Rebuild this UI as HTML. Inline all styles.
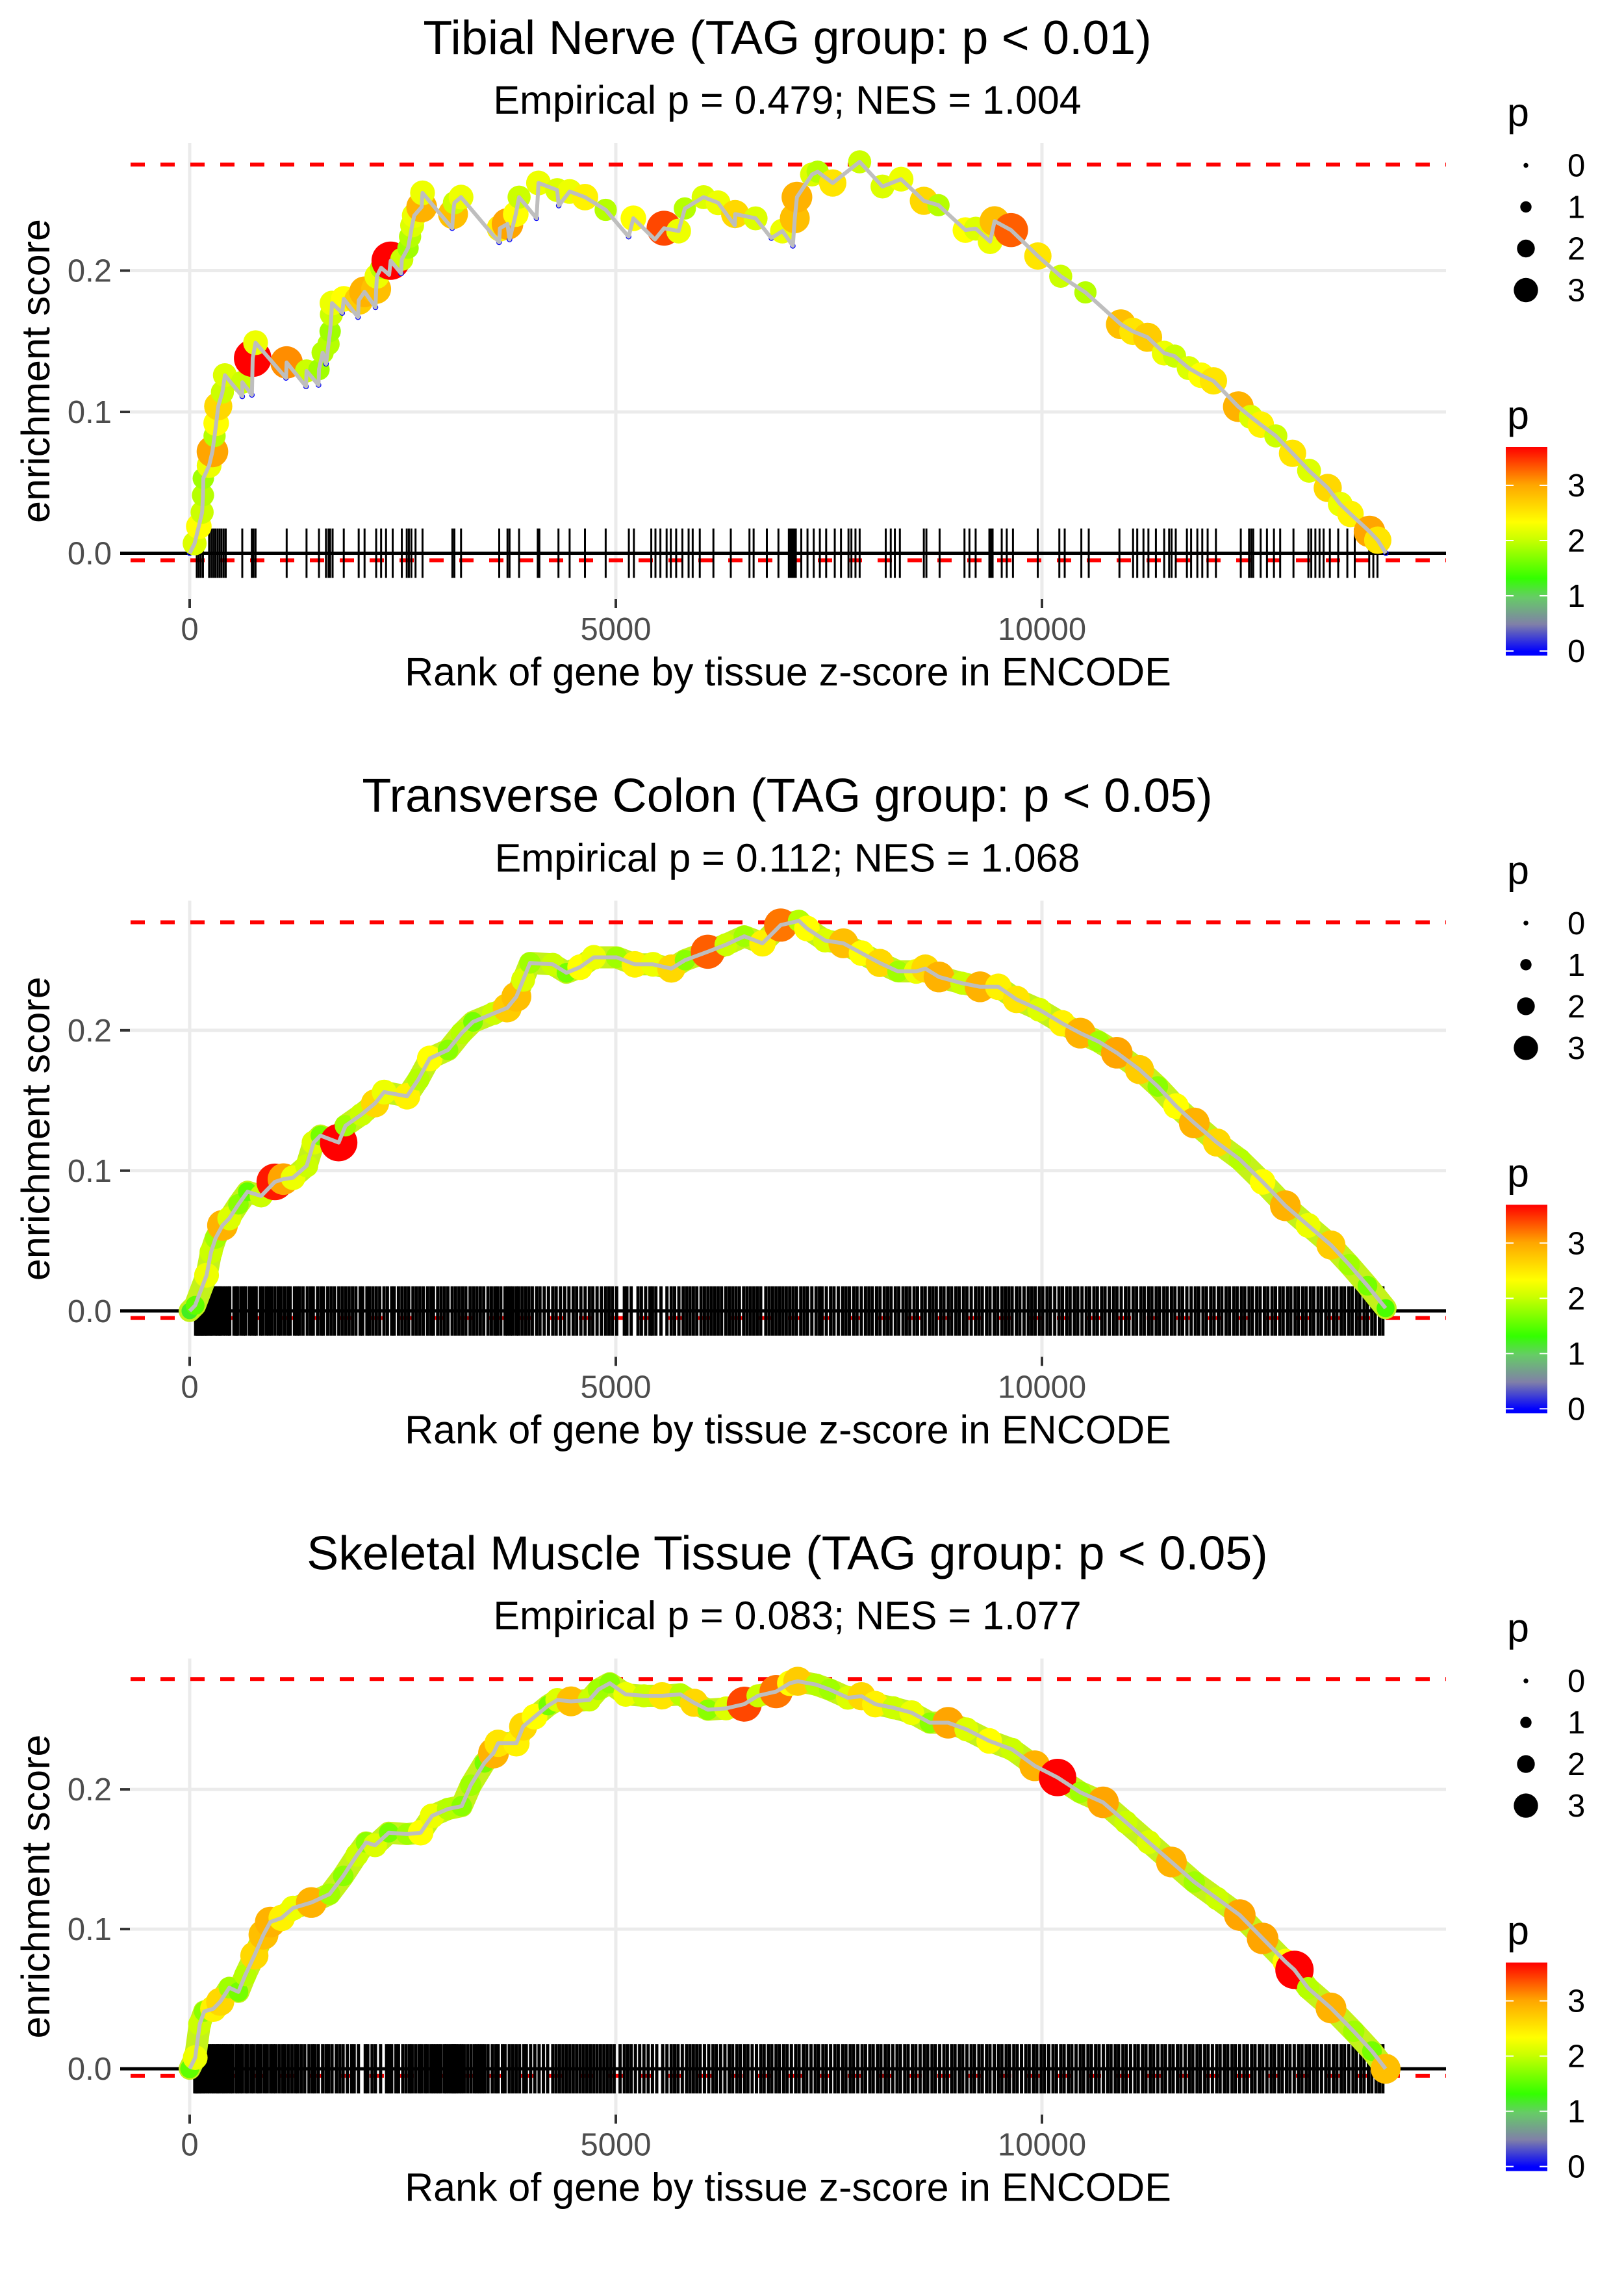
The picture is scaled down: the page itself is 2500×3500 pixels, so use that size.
<!DOCTYPE html>
<html><head><meta charset="utf-8"><title>Enrichment plots</title>
<style>
html,body{margin:0;padding:0;background:#fff;}
svg{display:block;font-family:"Liberation Sans",Arial,sans-serif;}
</style></head>
<body>
<svg id="chart" xmlns="http://www.w3.org/2000/svg" width="2500" height="3500" viewBox="0 0 2500 3500">
<defs>
<linearGradient id="pgrad" x1="0" y1="1" x2="0" y2="0">
<stop offset="0.02" stop-color="#0000ff"/>
<stop offset="0.15" stop-color="#8080a8"/>
<stop offset="0.28" stop-color="#66cc66"/>
<stop offset="0.37" stop-color="#33ff00"/>
<stop offset="0.56" stop-color="#ccff00"/>
<stop offset="0.64" stop-color="#ffff00"/>
<stop offset="0.82" stop-color="#ffa500"/>
<stop offset="1" stop-color="#ff0000"/>
</linearGradient>
</defs>
<rect x="0" y="0" width="2500" height="3500" fill="#fff"/>
</svg>
<script>
// ---- data ----
const xTicks=[0,5000,10000];
const xTickLabels=['0','5000','10000'];
const yTicks=[0,0.1,0.2];
const yTickLabels=['0.0','0.1','0.2'];
const legendSizes=[0,1,2,3];
const legendColorTicks=[0,1,2,3];

const tibialRank=[0,58,107,146,156,160,228,267,292,311,335,384,413,617,617,730,739,773,1130,1137,1365,1371,1512,1517,1560,1600,1629,1648,1663,1670,1790,1808,1975,1983,2052,2180,2188,2197,2246,2340,2358,2480,2489,2562,2586,2610,2635,2722,2732,3080,3090,3106,3184,3630,3640,3729,3753,3826,3865,4069,4093,4312,4330,4458,4638,4881,5150,5206,5459,5566,5737,5810,6030,6200,6395,6400,6640,6825,6955,7077,7100,7125,7302,7368,7545,7861,8129,8347,8614,8786,9102,9223,9392,9444,9637,9952,10220,10510,10926,11067,11240,11434,11556,11722,11866,12012,12304,12450,12568,12744,12940,13134,13353,13500,13620,13843,13940,14035];
const tibialES=[0,.007,.019,.029,.041,.053,.062,.072,.083,.092,.104,.114,.126,.111,.121,.112,.138,.149,.124,.135,.118,.129,.119,.130,.142,.134,.148,.157,.169,.177,.170,.180,.167,.179,.185,.174,.187,.196,.202,.197,.207,.198,.208,.216,.224,.232,.239,.245,.255,.230,.240,.248,.252,.220,.230,.233,.222,.240,.252,.237,.262,.257,.246,.256,.252,.243,.224,.237,.222,.230,.228,.244,.252,.248,.232,.240,.237,.223,.228,.2175,.237,.252,.268,.270,.262,.277,.2595,.2647,.2494,.2463,.2287,.2297,.2205,.235,.2287,.2103,.196,.1846,.162,.157,.1528,.1416,.1395,.131,.126,.122,.1037,.0965,.091,.083,.0707,.0584,.0462,.0347,.0278,.0154,.0092,0];
const tibialP=[0,2.1,2.3,2.0,1.9,1.8,2.2,3.0,1.9,2.3,2.6,2.0,2.1,0,2.0,0,3.7,2.2,0,3.1,0,2.0,0,1.8,1.9,0,1.9,1.8,2.0,2.2,0,2.3,0,2.7,2.9,0,2.8,2.2,1.9,0,3.8,0,2.0,1.8,1.9,2.1,2.2,2.9,2.2,0,2.8,2.0,2.2,0,2.4,3.0,0,2.3,2.0,0,2.2,2.1,0,2.2,2.4,1.9,0,2.3,0,3.4,2.2,1.9,2.1,2.2,0,2.6,2.1,0,2.2,0,2.8,2.9,2.1,1.9,2.5,2.0,2.1,2.2,2.6,1.9,2.3,2.1,2.2,2.8,3.3,2.5,2.0,1.9,2.8,2.5,2.7,2.2,2.0,2.1,2.3,2.5,2.9,2.1,2.4,2.0,2.5,2.1,2.6,2.2,2.4,3.0,2.5,0];
const tibialRug=[83,107,131,156,228,253,277,301,326,350,374,399,423,617,729,749,773,1138,1371,1517,1599,1629,1648,1677,1808,1983,2052,2188,2246,2304,2382,2489,2547,2572,2601,2650,2732,3082,3106,3184,3632,3729,3753,3865,4084,4103,4327,4458,4638,4881,5153,5212,5416,5465,5523,5596,5645,5708,5781,5854,5902,5985,6145,6349,6568,6617,6772,6908,7030,7045,7062,7078,7095,7112,7176,7249,7322,7394,7468,7569,7642,7730,7764,7812,7861,8167,8226,8274,8333,8614,8644,8799,9091,9149,9222,9383,9402,9421,9528,9587,9660,9951,10204,10267,10462,10549,10909,11069,11118,11191,11249,11337,11434,11492,11521,11570,11701,11750,11823,11881,11944,12041,12333,12430,12455,12479,12566,12640,12722,12795,12951,13126,13160,13208,13257,13305,13378,13476,13583,13670,13840,13888,13937];

const colonRank=[0,64,198,251,305,385,465,572,678,839,999,1100,1213,1373,1454,1534,1748,1828,2015,2175,2282,2550,2683,2817,3031,3191,3325,3565,3726,3833,3913,3993,4261,4421,4581,4742,5009,5223,5437,5651,5812,6079,6293,6507,6721,6935,7149,7242,7456,7670,7883,8097,8311,8525,8632,8792,9060,9274,9488,9701,9969,10236,10450,10664,10878,11145,11359,11573,11787,12054,12321,12589,12856,13123,13391,13605,13819,14032];
const colonES=[0,.004,.0255,.042,.052,.061,.066,.076,.085,.082,.092,.094,.095,.1035,.120,.125,.120,.132,.140,.148,.156,.153,.165,.180,.186,.198,.206,.212,.216,.224,.236,.248,.247,.241,.245,.252,.252,.247,.247,.244,.250,.256,.261,.267,.262,.275,.278,.2726,.264,.262,.255,.248,.242,.242,.244,.238,.2336,.231,.231,.222,.2147,.205,.198,.192,.184,.172,.160,.146,.134,.120,.108,.092,.075,.061,.047,.033,.018,.002];
const colonP=[1.2,1.5,2.2,2.0,1.8,2.9,2.1,1.7,1.5,2.0,3.6,3.0,2.2,2.0,2.1,1.6,3.7,1.8,2.0,2.6,2.2,2.4,1.9,2.3,1.7,1.9,1.6,2.0,2.7,2.8,2.1,1.8,2.0,1.6,2.3,2.2,1.8,2.4,2.2,2.6,1.7,3.3,2.0,1.8,2.4,3.2,1.9,2.3,2.1,2.8,2.3,2.6,1.8,2.2,2.6,2.9,2.0,2.9,2.4,2.5,2.1,2.4,2.9,1.8,3.0,2.7,1.7,2.3,2.9,2.6,1.9,2.3,2.9,2.2,2.7,1.8,1.6,1.4];
const colonRug=[70,85,100,120,135,150,170,190,205,230,250,270,300,320,345,360,390,420,450,470,520,545,560,600,630,655,700,730,760,780,830,860,900,930,960,1000,1040,1070,1110,1150,1180,1230,1260,1290,1330,1380,1420,1450,1500,1540,1570,1620,1660,1700,1750,1790,1830,1870,1910,1950,2000,2030,2080,2110,2150,2190,2230,2280,2320,2370,2400,2450,2490,2530,2570,2620,2660,2700,2740,2790,2830,2860,2910,2950,2990,3030,3080,3120,3160,3200,3240,3290,3330,3370,3410,3450,3500,3540,3580,3610,3650,3700,3730,3760,3790,3830,3860,3900,3940,3980,4020,4070,4110,4160,4210,4260,4300,4350,4400,4450,4500,4540,4590,4640,4690,4730,4780,4830,4880,4920,4960,5010,5100,5130,5180,5260,5300,5350,5400,5430,5470,5530,5600,5650,5690,5740,5790,5830,5870,5910,5950,6000,6040,6080,6120,6160,6200,6240,6290,6330,6370,6410,6450,6500,6540,6580,6620,6660,6700,6760,6800,6840,6880,6920,6960,7000,7040,7080,7120,7170,7210,7250,7300,7350,7390,7420,7470,7520,7560,7610,7660,7700,7740,7790,7830,7880,7930,7970,8010,8060,8100,8150,8190,8230,8280,8320,8370,8410,8450,8500,8540,8590,8630,8680,8720,8760,8810,8850,8900,8940,8990,9030,9080,9120,9170,9220,9260,9300,9350,9390,9440,9480,9530,9570,9610,9650,9700,9740,9790,9840,9880,9920,9970,10010,10060,10100,10150,10200,10240,10290,10330,10380,10420,10470,10520,10560,10610,10650,10700,10740,10790,10840,10880,10930,10980,11020,11070,11110,11160,11200,11250,11290,11340,11380,11430,11470,11520,11560,11610,11650,11700,11750,11800,11840,11890,11930,11980,12020,12070,12110,12160,12200,12250,12290,12340,12380,12430,12470,12520,12560,12610,12650,12700,12740,12790,12830,12880,12920,12970,13010,13060,13100,13150,13190,13240,13280,13330,13370,13420,13460,13510,13550,13600,13640,13690,13730,13780,13820,13870,13910,13960,14000];

const muscleRank=[0,65,118,171,278,358,465,572,652,759,866,946,1080,1213,1427,1641,1802,1962,2069,2175,2336,2550,2710,2844,3031,3191,3298,3458,3565,3619,3833,3913,4047,4207,4314,4475,4689,4796,4929,5116,5330,5544,5758,5918,6079,6293,6507,6668,6881,7042,7135,7349,7509,7723,7883,8044,8258,8472,8685,8899,9113,9381,9648,9915,10183,10450,10717,10985,11252,11519,11787,12054,12321,12589,12856,12963,13123,13391,13658,13872,14032];
const muscleES=[0,.008,.032,.041,.043,.048,.058,.055,.067,.081,.096,.105,.108,.115,.119,.125,.138,.153,.162,.160,.169,.168,.169,.181,.186,.188,.203,.219,.226,.233,.233,.245,.252,.260,.264,.263,.264,.2715,.276,.268,.267,.267,.268,.262,.257,.258,.261,.267,.270,.276,.2774,.275,.2715,.2656,.2667,.261,.2584,.2549,.2477,.2477,.243,.2347,.2287,.2169,.2085,.1979,.1907,.1765,.1622,.148,.1337,.1219,.11,.0933,.0767,.0708,.0577,.0435,.0268,.0126,0];
const muscleP=[1.5,2.2,2.0,1.7,2.4,2.6,1.8,1.6,1.9,2.6,2.8,2.9,2.4,2.2,2.9,1.8,1.7,2.0,1.7,2.1,1.6,1.8,2.3,2.2,1.9,1.7,1.8,1.6,2.9,2.5,2.4,2.6,2.3,1.6,2.1,2.8,2.0,1.8,1.7,2.2,2.0,2.5,1.9,2.6,1.7,2.1,3.4,2.0,3.2,2.3,2.7,1.9,1.8,2.1,2.6,2.4,2.0,2.2,1.7,3.0,2.1,2.3,2.0,2.9,3.7,1.8,3.0,2.0,2.1,2.9,1.8,2.0,3.0,3.0,2.3,3.8,1.9,2.9,1.8,1.6,2.8];
const muscleRug=[60,72,84,95,110,125,140,165,180,210,230,260,280,310,330,350,380,400,425,450,480,500,540,560,590,620,660,680,720,750,790,810,840,880,910,950,980,1010,1050,1090,1120,1160,1200,1240,1270,1310,1350,1400,1440,1470,1510,1560,1600,1630,1670,1720,1760,1800,1850,1900,1930,1980,2060,2090,2140,2180,2240,2310,2340,2370,2420,2450,2500,2540,2580,2610,2650,2690,2720,2760,2790,2830,2860,2890,2920,2950,2990,3010,3040,3070,3090,3110,3130,3160,3190,3220,3260,3300,3340,3370,3400,3430,3460,3500,3550,3590,3620,3670,3700,3750,3790,3830,3870,3920,3950,4000,4050,4100,4150,4200,4260,4300,4340,4380,4420,4460,4500,4540,4580,4620,4660,4700,4740,4780,4820,4860,4900,4940,4980,5050,5100,5140,5180,5230,5280,5330,5380,5430,5480,5550,5600,5650,5690,5730,5780,5830,5870,5910,5950,5990,6040,6090,6140,6180,6230,6280,6330,6370,6420,6460,6510,6550,6600,6650,6700,6740,6790,6830,6880,6920,6970,7010,7060,7110,7150,7200,7240,7290,7340,7380,7430,7470,7520,7570,7610,7660,7700,7750,7790,7840,7890,7930,7980,8020,8070,8110,8160,8200,8250,8300,8340,8390,8430,8480,8520,8570,8620,8660,8710,8750,8800,8850,8890,8940,8980,9030,9070,9120,9170,9210,9260,9300,9350,9390,9440,9490,9530,9580,9620,9670,9710,9760,9810,9850,9900,9940,9990,10030,10080,10130,10170,10220,10260,10310,10350,10400,10450,10490,10540,10580,10630,10670,10720,10770,10810,10860,10900,10950,10990,11040,11090,11130,11180,11220,11270,11310,11360,11410,11450,11500,11540,11590,11630,11680,11730,11770,11820,11860,11910,11950,12000,12050,12090,12140,12180,12230,12270,12320,12370,12410,12460,12500,12550,12590,12640,12690,12730,12780,12820,12870,12910,12960,13010,13050,13100,13140,13190,13230,13280,13330,13370,13420,13460,13510,13550,13600,13650,13690,13740,13780,13830,13870,13920,13960,14000];

// ---- rendering ----
const NS='http://www.w3.org/2000/svg';
const svg=document.getElementById('chart');
function mk(tag,attrs,parent){const e=document.createElementNS(NS,tag);for(const k in attrs)e.setAttribute(k,attrs[k]);(parent||svg).appendChild(e);return e;}
const stops=[[0,[0,0,255]],[0.5,[128,128,168]],[1.0,[102,204,102]],[1.3,[51,255,0]],[2.0,[204,255,0]],[2.3,[255,255,0]],[3.0,[255,165,0]],[3.7,[255,0,0]]];
function pColor(p){
  if(p<=stops[0][0])return 'rgb(0,0,255)';
  for(let i=1;i<stops.length;i++){if(p<=stops[i][0]){const a=stops[i-1],b=stops[i],t=(p-a[0])/(b[0]-a[0]);const c=a[1].map((v,j)=>Math.round(v+(b[1][j]-v)*t));return 'rgb('+c.join(',')+')';}}
  return 'rgb(255,0,0)';
}
function pRadius(p){return 3.7+5*p;}
const PL=200,PR=2226,X0=292,KX=0.1312;
function xs(r){return X0+r*KX;}

function drawPanel(k,cfg){
  const dy=k*1166.3;
  const y0=851.5+dy, ky=cfg.ky;
  const ys=v=>y0-v*ky;
  const g=mk('g',{});
  
  
  const t=mk('text',{x:1212,y:83+dy,'font-size':73.5,'text-anchor':'middle',fill:'#000'},g);t.textContent=cfg.title;
  
  
  const st=mk('text',{x:1212,y:175+dy,'font-size':61,'text-anchor':'middle',fill:'#000'},g);st.textContent=cfg.subtitle;
  
  
  yTicks.forEach((v,i)=>{
    const gl=mk('line',{x1:PL,x2:PR,y1:ys(v),y2:ys(v),stroke:'#ebebeb','stroke-width':5},g);
    
    
    const tk=mk('line',{x1:185,x2:200,y1:ys(v),y2:ys(v),stroke:'#333','stroke-width':4},g);
    
    
    const tl=mk('text',{x:172,y:ys(v)+17,'font-size':49,'text-anchor':'end',fill:'#4d4d4d'},g);tl.textContent=yTickLabels[i];
    
    
  });
  xTicks.forEach((v,i)=>{
    const gl=mk('line',{x1:xs(v),x2:xs(v),y1:220+dy,y2:922+dy,stroke:'#ebebeb','stroke-width':5},g);
    
    
    const tk=mk('line',{x1:xs(v),x2:xs(v),y1:922+dy,y2:936+dy,stroke:'#333','stroke-width':4},g);
    
    
    const tl=mk('text',{x:xs(v),y:985+dy,'font-size':49,'text-anchor':'middle',fill:'#4d4d4d'},g);tl.textContent=xTickLabels[i];
    
    
  });
  const xt=mk('text',{x:1213,y:1055+dy,'font-size':61,'text-anchor':'middle',fill:'#000'},g);xt.textContent='Rank of gene by tissue z-score in ENCODE';
  
  
  const yt=mk('text',{x:0,y:0,'font-size':61,'text-anchor':'middle',fill:'#000',transform:'translate(76,'+(571+dy)+') rotate(-90)'},g);yt.textContent='enrichment score';
  
  
  [cfg.top,-0.005].forEach(v=>{
    const rl=mk('line',{x1:201,x2:PR,y1:ys(v),y2:ys(v),stroke:'#ff0000','stroke-width':6,'stroke-dasharray':'22 24'},g);
    
    
  });
  const rugG=mk('g',{stroke:'#000','stroke-width':cfg.rugW},g);
  
  
  cfg.rug.forEach(r=>{
    const l=mk('line',{x1:xs(r),x2:xs(r),y1:y0-38,y2:y0+38},rugG);
    
    
  });
  const zl=mk('line',{x1:185,x2:PR,y1:y0,y2:y0,stroke:'#000','stroke-width':5},g);
  
  
  const pts=cfg.rank.map((r,i)=>xs(r).toFixed(1)+','+ys(cfg.es[i]).toFixed(1)).join(' ');
  if(cfg.band){
    const b=mk('polyline',{points:pts,fill:'none',stroke:'#c4f21a','stroke-width':34,'stroke-linejoin':'round','stroke-linecap':'round'},g);
    
    
  }
  const ptG=mk('g',{},g);
  
  
  cfg.rank.forEach((r,i)=>{
    const p=cfg.p[i];
    const c=mk('circle',{cx:xs(r),cy:ys(cfg.es[i]),r:p===0?3.5:1.3*pRadius(p),fill:p===0?'none':pColor(p),stroke:p===0?'#0000ff':'none','stroke-width':1.5},ptG);
    
    
  });
  const line=mk('polyline',{points:pts,fill:'none',stroke:'#bebebe','stroke-width':6,'stroke-linejoin':'round'},g);
  
  
  const lt=mk('text',{x:2320,y:194+dy,'font-size':61,fill:'#000'},g);lt.textContent='p';
  
  
  legendSizes.forEach((s,i)=>{
    const cy=254.5+i*64+dy;
    const c=mk('circle',{cx:2349,cy:cy,r:pRadius(s),fill:'#000'},g);
    
    
    const tx=mk('text',{x:2413,y:cy+17,'font-size':49,fill:'#000'},g);tx.textContent=String(s);
    
    
  });
  const ct=mk('text',{x:2320,y:660+dy,'font-size':61,fill:'#000'},g);ct.textContent='p';
  
  
  const bar=mk('rect',{x:2318,y:688+dy,width:64,height:321,fill:'url(#pgrad)'},g);
  
  
  legendColorTicks.forEach(v=>{
    const yy=1002-v*85+dy;
    mk('line',{x1:2318,x2:2330,y1:yy,y2:yy,stroke:'#fff','stroke-width':2},g);
    mk('line',{x1:2370,x2:2382,y1:yy,y2:yy,stroke:'#fff','stroke-width':2},g);
    const tx=mk('text',{x:2413,y:yy+17,'font-size':49,fill:'#000'},g);tx.textContent=String(v);
    
    
  });
}
drawPanel(0,{name:'tibial-nerve',title:'Tibial Nerve (TAG group: p < 0.01)',subtitle:'Empirical p = 0.479; NES = 1.004',ky:2175,top:0.275,rank:tibialRank,es:tibialES,p:tibialP,rug:tibialRug,rugW:3,band:false});
drawPanel(1,{name:'transverse-colon',title:'Transverse Colon (TAG group: p < 0.05)',subtitle:'Empirical p = 0.112; NES = 1.068',ky:2160,top:0.277,rank:colonRank,es:colonES,p:colonP,rug:colonRug,rugW:5,band:true});
drawPanel(2,{name:'skeletal-muscle',title:'Skeletal Muscle Tissue (TAG group: p < 0.05)',subtitle:'Empirical p = 0.083; NES = 1.077',ky:2150,top:0.279,rank:muscleRank,es:muscleES,p:muscleP,rug:muscleRug,rugW:5,band:true});
</script>
</body></html>
